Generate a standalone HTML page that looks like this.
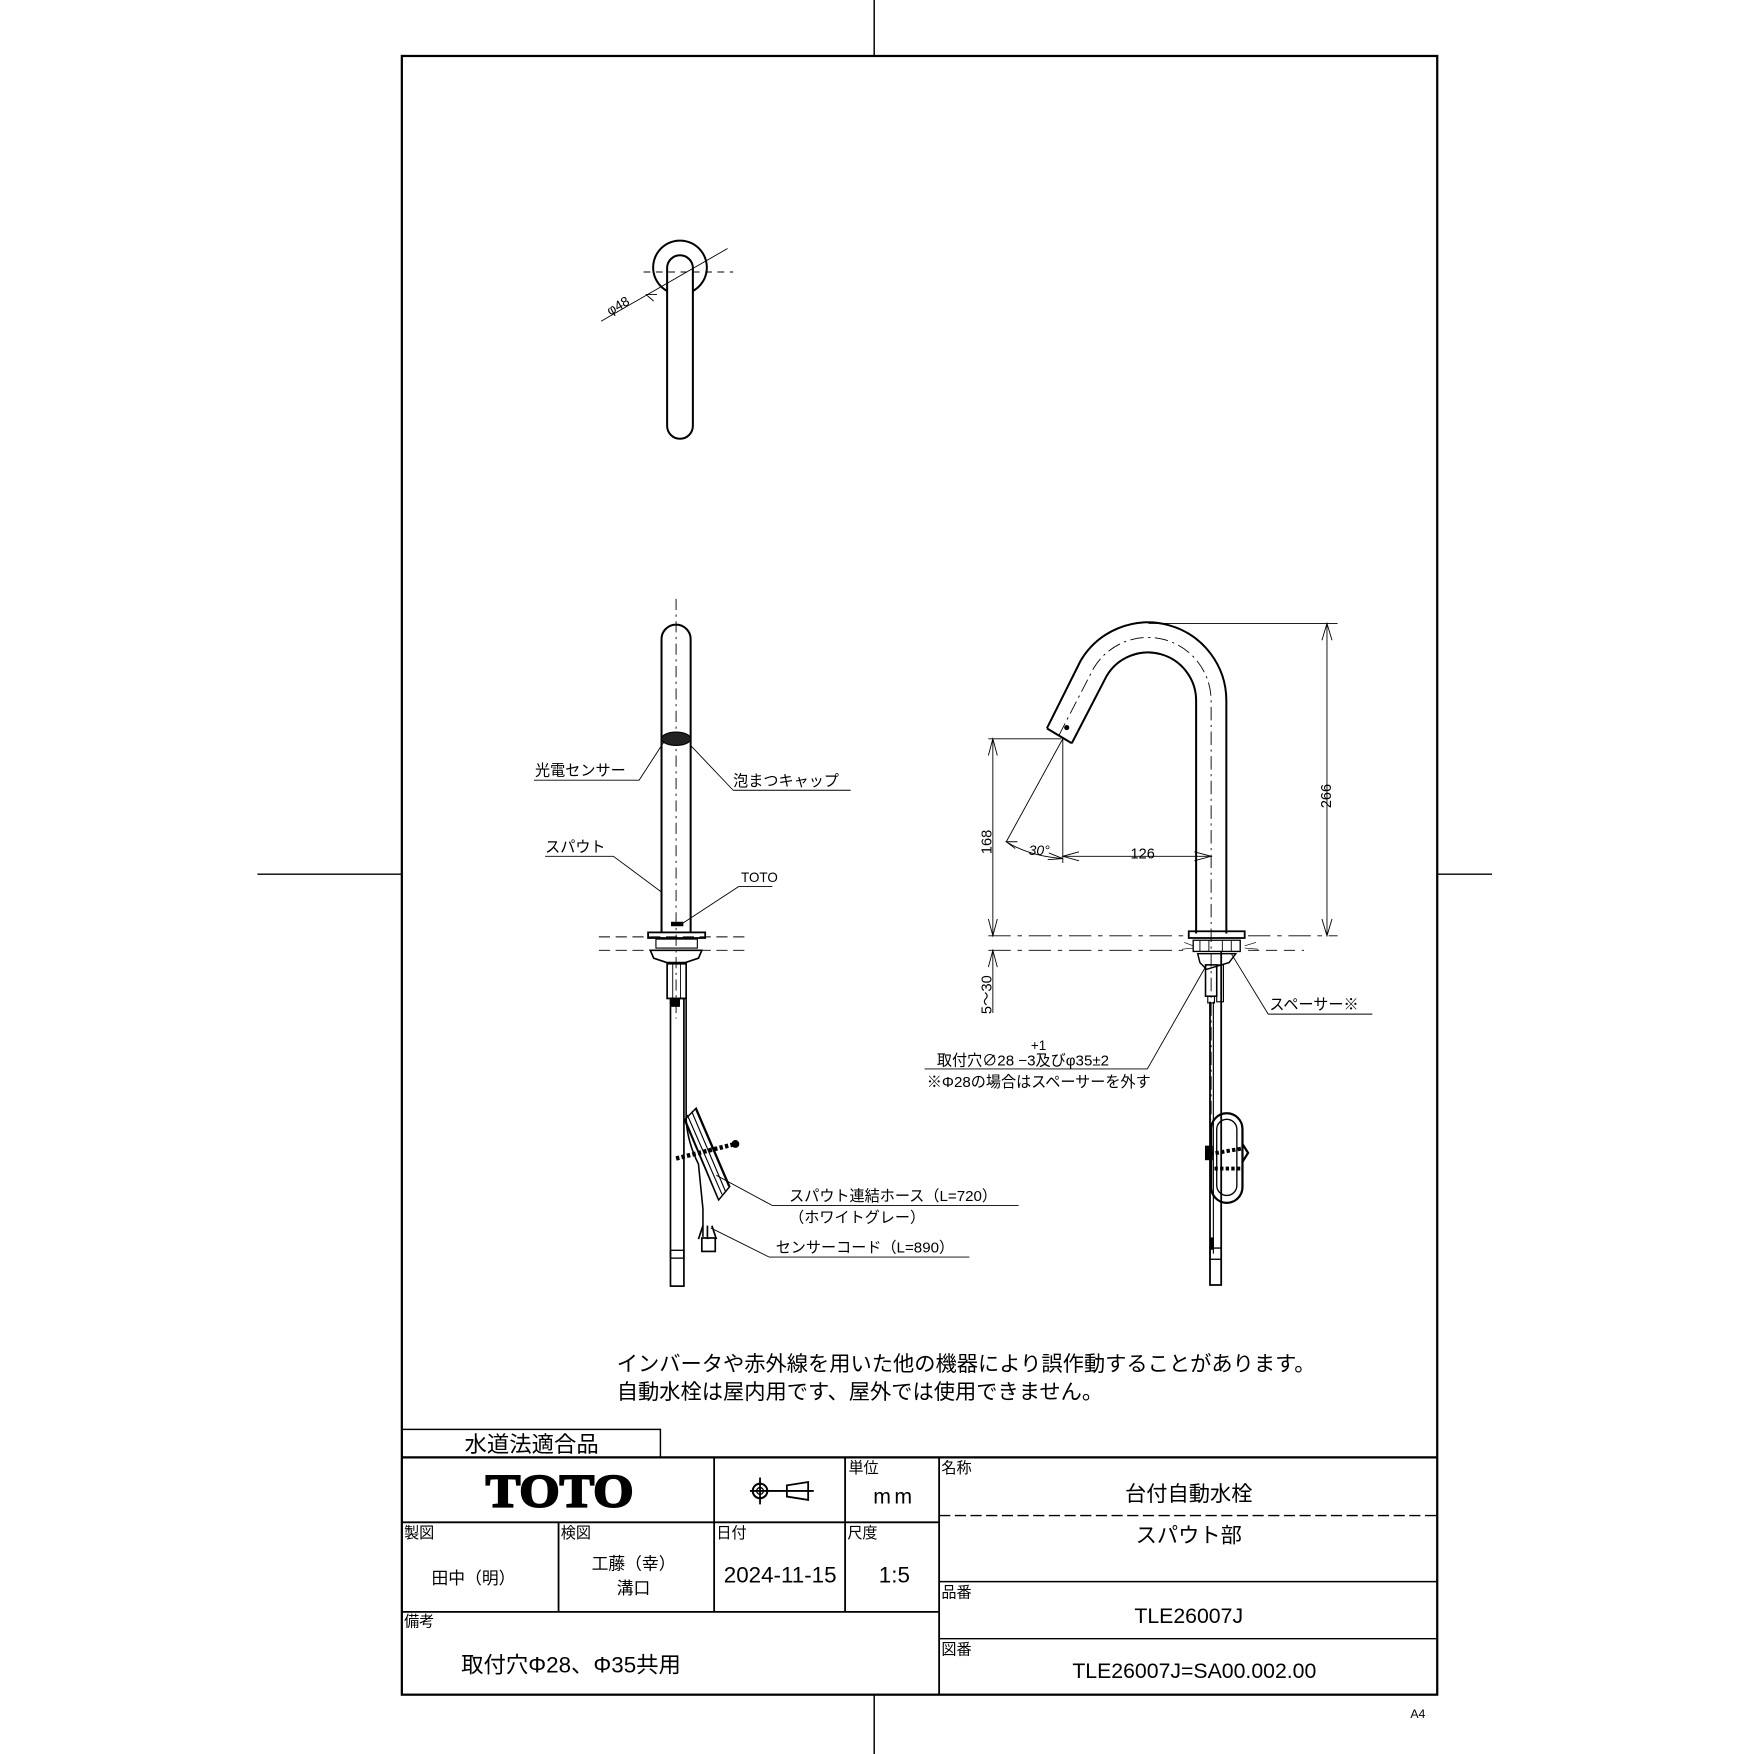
<!DOCTYPE html>
<html><head><meta charset="utf-8"><style>
html,body{margin:0;padding:0;background:#fff;}
svg{display:block;}
text{font-family:"Liberation Sans","Noto Sans CJK JP",sans-serif;fill:#000;}
</style></head><body>
<svg width="1754" height="1754" viewBox="0 0 1567 1567" xmlns="http://www.w3.org/2000/svg">
<rect width="1567" height="1567" fill="#fff"/>
<g stroke="#000" stroke-width="1.3">
<line x1="781" y1="0" x2="781" y2="50"/><line x1="781" y1="1514" x2="781" y2="1567"/>
<line x1="230" y1="781" x2="359" y2="781"/><line x1="1284" y1="781" x2="1333" y2="781"/>
</g>
<rect x="359" y="50" width="925" height="1464" fill="none" stroke="#000" stroke-width="2"/>

<g fill="none" stroke="#000" stroke-width="1.8">
<path d="M596,260 A24,24 0 1 1 619,260"/>
<rect x="596" y="228" width="23" height="164" rx="11.5" fill="#fff"/>
</g>
<line x1="575" y1="243" x2="655" y2="243" stroke="#000" stroke-width="0.8" stroke-dasharray="6,5"/>
<line x1="537" y1="287" x2="650" y2="222" stroke="#000" stroke-width="0.8"/>
<path d="M577,263 l10,0 M577,263 l7,6" stroke="#000" stroke-width="0.8" fill="none"/>
<text x="545" y="282" font-size="12" transform="rotate(-30 545 282)">φ48</text>

<g fill="none" stroke="#000">
<line x1="604" y1="535" x2="604" y2="910" stroke-width="0.8" stroke-dasharray="10,4,2,4"/>
<path d="M591,833 L591,571 A13,13 0 0 1 617,571 L617,833" stroke-width="1.8"/>
<ellipse cx="604" cy="660" rx="13" ry="6" fill="#222" stroke-width="1"/>
<rect x="600" y="824" width="10" height="3" fill="#000"/>
<rect x="579" y="833" width="51" height="5" stroke-width="1.6"/>
<line x1="535" y1="837" x2="670" y2="837" stroke-width="0.8" stroke-dasharray="10,5"/>
<line x1="535" y1="849" x2="670" y2="849" stroke-width="0.8" stroke-dasharray="10,5"/>
<rect x="586" y="839" width="37" height="8" stroke-width="1"/>
<path d="M581,849 L627,849 L624,856 L612,860 L596,860 L584,856 Z" stroke-width="1.5"/>
<rect x="596" y="861" width="17" height="31" stroke-width="1.5"/>
<line x1="601" y1="861" x2="601" y2="892" stroke-width="0.8"/><line x1="608" y1="861" x2="608" y2="892" stroke-width="0.8"/>
<rect x="600" y="892" width="7" height="7" fill="#000"/>
<rect x="599" y="892" width="12" height="257" stroke-width="1.5"/>
<rect x="599" y="1117" width="12" height="7" stroke-width="1.2"/>
<path d="M613,892 L613,1000 Q614,1020 624,1040 L628,1080 L628,1105" stroke-width="1.4"/>
<path d="M611,1000 L641,1070 M614,996 L645,1067 M618,993 L648,1064 M621,990 L651,1060" stroke-width="1"/>
<path d="M612,1000 L622,990 L652,1060 L642,1072 Z" stroke-width="1.3"/>
<path d="M604,1035 L657,1022" stroke-width="4" stroke-dasharray="3,2"/>
<circle cx="657" cy="1022" r="3" fill="#000"/>
<path d="M628,1095 L624,1107 M632,1095 L632,1107 M636,1095 L640,1107" stroke-width="1.5"/>
<rect x="627" y="1106" width="12" height="12" stroke-width="1.5"/>
</g>
<g stroke="#000" stroke-width="0.8" fill="none">
<path d="M477,697 L571,697 L593,663"/>
<path d="M655,706 L760,706 M655,706 L617,666"/>
<path d="M487,765 L548,765 L591,797"/>
<path d="M660,792 L690,792 M660,792 L608,826"/>
<path d="M690,1077 L910,1077 M690,1077 L640,1050"/>
<path d="M687,1123 L866,1123 M687,1123 L635,1097"/>
</g>
<g font-size="13.5">
<text x="478" y="693">光電センサー</text>
<text x="655" y="702">泡まつキャップ</text>
<text x="487" y="761">スパウト</text>
<text x="662" y="788" font-size="12">TOTO</text>
<text x="705" y="1073">スパウト連結ホース（L=720）</text>
<text x="705" y="1092">（ホワイトグレー）</text>
<text x="693" y="1119">センサーコード（L=890）</text>
</g>

<g fill="none" stroke="#000">
<path d="M935.3,650.7 L965.4,590.3 A70,70 0 0 1 1095.6,626 L1095.6,834" stroke-width="1.8"/>
<path d="M957.5,664 L988.6,604 A43,43 0 0 1 1068.6,626 L1068.6,834" stroke-width="1.8"/>
<path d="M935.3,650.7 L957.5,664" stroke-width="1.8"/>
<path d="M946,657 L977,597 A56.5,56.5 0 0 1 1082,626 L1082,1000" stroke-width="0.8" stroke-dasharray="12,4,2,4"/>
<circle cx="953" cy="650" r="1.8" fill="#000"/>
<g stroke-width="0.8">
<line x1="1026" y1="557" x2="1195" y2="557"/>
<line x1="1185.5" y1="557" x2="1185.5" y2="836"/>
<path d="M1181,572 L1185.5,557 L1190,572 M1181,821 L1185.5,836 L1190,821"/>
<line x1="883" y1="836" x2="1060" y2="836" stroke-dasharray="20,6,4,6"/>
<line x1="1115" y1="836" x2="1195" y2="836" stroke-dasharray="20,6,4,6"/>
<line x1="883" y1="849" x2="1060" y2="849" stroke-dasharray="20,6,4,6"/>
<line x1="1115" y1="849" x2="1165" y2="849" stroke-dasharray="10,6"/>
<line x1="883" y1="660" x2="948" y2="660"/>
<line x1="887" y1="660" x2="887" y2="836"/>
<path d="M883,675 L887,660 L891,675 M883,821 L887,836 L891,821"/>
<line x1="887" y1="849" x2="887" y2="905"/>
<path d="M883,864 L887,849 L891,864"/>
<line x1="949.5" y1="660" x2="949.5" y2="771"/>
<line x1="949.5" y1="765" x2="1082" y2="765"/>
<path d="M964,761 L949.5,765 L964,769 M1067,761 L1082,765 L1067,769"/>
<line x1="949.5" y1="660" x2="899" y2="752"/>
<path d="M899,752 Q920,765 949.5,767"/>
<path d="M909,752 L899,752 L907,758 M937,762 L949.5,767 L936,768"/>
</g>
<rect x="1062" y="832" width="50" height="6" stroke-width="1.6"/>
<path d="M1066,840 L1108,840 L1108,850 L1066,850 Z" stroke-width="1.2"/>
<path d="M1072,840 L1072,850 M1080,840 L1080,850 M1092,840 L1092,850 M1100,840 L1100,850" stroke-width="0.8"/>
<path d="M1058,842 L1066,845 M1056,848 L1066,847 M1112,845 L1122,842 M1112,847 L1124,848" stroke-width="0.6"/>
<path d="M1070,852 L1104,852 L1098,860 L1078,866 L1072,860 Z" stroke-width="1.3"/>
<rect x="1077" y="862" width="10" height="28" stroke-width="1.4"/>
<rect x="1079" y="890" width="6" height="6" stroke-width="1"/>
<rect x="1087" y="862" width="6" height="33" stroke-width="1"/>
<path d="M1081,895 L1081,1148 L1091,1148 L1091,850" stroke-width="1.6"/>
<line x1="1084" y1="895" x2="1084" y2="1120" stroke-width="1"/>
<rect x="1082" y="994.6" width="28" height="80" rx="14" stroke-width="2"/>
<rect x="1087" y="1000" width="18" height="68" rx="9" stroke-width="1.2"/>
<path d="M1081,1031 L1110,1026 M1085,1044 L1108,1044" stroke-width="3.5" stroke-dasharray="3,2"/>
<rect x="1077" y="1024" width="6" height="12" fill="#000"/>
<path d="M1110,1022 L1115,1030 L1110,1038" stroke-width="2"/>
<rect x="1081" y="1115" width="10" height="10" stroke-width="1.2"/>
<rect x="1081" y="1106" width="3" height="10" fill="#000"/>
</g>
<g stroke="#000" stroke-width="0.8" fill="none">
<path d="M1133,906 L1226,906 M1133,906 L1100,852"/>
<path d="M826,955 L1025,955 L1078,862"/>
</g>
<g font-size="13.5">
<text x="1134" y="902">スペーサー※</text>
<text x="921" y="938" font-size="12">+1</text>
<text x="837" y="952">取付穴∅28 −3及びφ35±2</text>
<text x="828" y="971">※Φ28の場合はスペーサーを外す</text>
<text x="1010" y="767" font-size="13">126</text>
<text x="919" y="764" font-size="12.5" font-style="italic">30°</text>
<text x="886" y="763" font-size="13" transform="rotate(-90 886 763)">168</text>
<text x="1189" y="722" font-size="13" transform="rotate(-90 1189 722)">266</text>
<text x="886" y="906" font-size="13" transform="rotate(-90 886 906)">5～30</text>
</g>

<text x="551" y="1225" font-size="19">インバータや赤外線を用いた他の機器により誤作動することがあります。</text>
<text x="551" y="1250" font-size="19">自動水栓は屋内用です、屋外では使用できません。</text>

<g stroke="#000" fill="none">
<rect x="359" y="1277" width="231" height="25" stroke-width="1.3"/>
<line x1="359" y1="1302" x2="1284" y2="1302" stroke-width="2"/>
<line x1="638" y1="1302" x2="638" y2="1440" stroke-width="1.6"/>
<line x1="755" y1="1302" x2="755" y2="1440" stroke-width="1.6"/>
<line x1="839" y1="1302" x2="839" y2="1514" stroke-width="1.6"/>
<line x1="359" y1="1360" x2="839" y2="1360" stroke-width="1.6"/>
<line x1="499" y1="1360" x2="499" y2="1440" stroke-width="1.6"/>
<line x1="359" y1="1440" x2="839" y2="1440" stroke-width="1.6"/>
<line x1="839" y1="1354" x2="1284" y2="1354" stroke-width="1.3" stroke-dasharray="10,4"/>
<line x1="839" y1="1413" x2="1284" y2="1413" stroke-width="1.3"/>
<line x1="839" y1="1464" x2="1284" y2="1464" stroke-width="1.3"/>
<circle cx="679" cy="1332" r="6.5" stroke-width="1.8"/>
<circle cx="679" cy="1332" r="3" stroke-width="1.2"/>
<path d="M679,1320 L679,1344 M670,1332 L727,1332 M703,1327 L722,1324 L722,1340 L703,1337 Z" stroke-width="1.6"/>
</g>
<text x="475" y="1297" font-size="20" text-anchor="middle">水道法適合品</text>
<text x="500" y="1346" font-size="42" font-weight="bold" text-anchor="middle" stroke="#000" stroke-width="1.8" style="font-family:'Liberation Serif',serif" textLength="132" lengthAdjust="spacingAndGlyphs">TOTO</text>
<g font-size="13.5">
<text x="758" y="1316">単位</text>
<text x="841" y="1316">名称</text>
<text x="361" y="1374">製図</text>
<text x="501" y="1374">検図</text>
<text x="640" y="1374">日付</text>
<text x="757" y="1374">尺度</text>
<text x="361" y="1453">備考</text>
<text x="841" y="1427">品番</text>
<text x="841" y="1478">図番</text>
</g>
<text x="799" y="1343" font-size="19" text-anchor="middle" letter-spacing="3">mm</text>
<text x="1062" y="1341" font-size="19" text-anchor="middle">台付自動水栓</text>
<text x="1062" y="1378" font-size="19" text-anchor="middle">スパウト部</text>
<text x="423" y="1415" font-size="15" text-anchor="middle">田中（明）</text>
<text x="566" y="1402" font-size="15" text-anchor="middle">工藤（幸）</text>
<text x="566" y="1424" font-size="15" text-anchor="middle">溝口</text>
<text x="697" y="1414" font-size="20" text-anchor="middle">2024-11-15</text>
<text x="799" y="1414" font-size="20" text-anchor="middle">1:5</text>
<text x="412" y="1494" font-size="20">取付穴Φ28、Φ35共用</text>
<text x="1062" y="1450" font-size="19" text-anchor="middle">TLE26007J</text>
<text x="1067" y="1499" font-size="19" text-anchor="middle">TLE26007J=SA00.002.00</text>
<text x="1260" y="1535" font-size="11">A4</text>
</svg>
</body></html>
